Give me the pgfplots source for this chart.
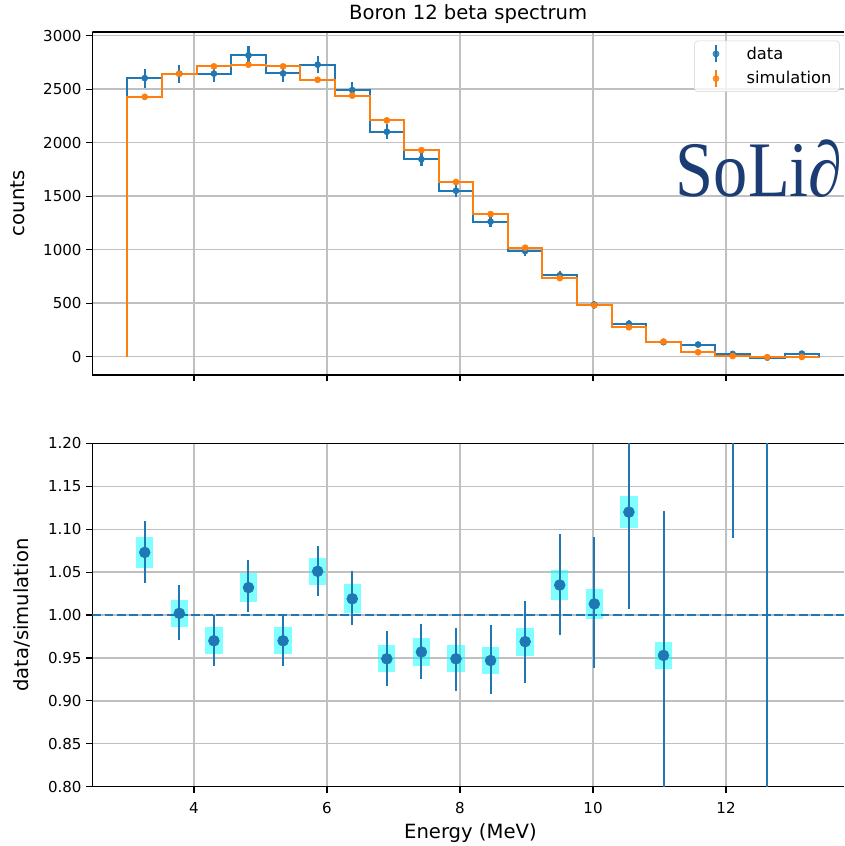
\documentclass[border=0pt]{standalone}
\usepackage{fontspec}
\setmainfont{DejaVu Sans}
\newfontfamily\logofont{Liberation Serif}
\usepackage{pgfplots}
\usepackage{pgfplotstable}
\pgfplotsset{compat=1.18}
\definecolor{mplblue}{HTML}{1F77B4}
\definecolor{mplorange}{HTML}{FF7F0E}
\definecolor{gridgray}{HTML}{C0C0C0}
\definecolor{solidblue}{HTML}{1C3C74}
\definecolor{boxcyan}{rgb}{0,1,1}

% histogram steps (bin edges, data, simulation)
\pgfplotstableread{
e     d     s
3.00  0     0
3.00  2603  2428
3.52  2645  2644
4.04  2645  2713
4.56  2816  2729
5.08  2647  2713
5.60  2729  2588
6.12  2491  2440
6.64  2102  2208
7.16  1845  1930
7.68  1551  1632
8.20  1262  1332
8.72  987   1018
9.24  760   734
9.76  486   479
10.28 307   274
10.80 135   141
11.32 113   41
11.84 25    6
12.36 -9    -6
12.88 28    -3
13.40 28    -3
13.40 0     0
}\steptab

% bin centres with values and errors
\pgfplotstableread{
x     d     ed  s     es
3.26  2603  88  2428  25
3.78  2645  85  2644  25
4.30  2645  80  2713  25
4.82  2816  83  2729  25
5.34  2647  81  2713  25
5.86  2729  78  2588  25
6.38  2491  76  2440  24
6.90  2102  71  2208  23
7.42  1845  63  1930  22
7.94  1551  60  1632  20
8.46  1262  53  1332  18
8.98  987   48  1018  16
9.50  760   43  734   13
10.02 486   37  479   11
10.54 307   31  274   8
11.06 135   24  141   6
11.58 113   20  41    4
12.10 25    18  6     2
12.62 -9    17  -6    2
13.14 28    17  -3    1
}\pointtab

% ratio data/simulation
\pgfplotstableread{
x     r      em     ep     h
3.26  1.073  0.036  0.037  0.0176
3.78  1.002  0.031  0.033  0.0160
4.30  0.970  0.029  0.030  0.0156
4.82  1.032  0.029  0.032  0.0168
5.34  0.970  0.029  0.030  0.0158
5.86  1.051  0.029  0.030  0.0160
6.38  1.019  0.031  0.032  0.0170
6.90  0.949  0.032  0.032  0.0156
7.42  0.957  0.032  0.033  0.0158
7.94  0.949  0.037  0.036  0.0158
8.46  0.947  0.039  0.041  0.0156
8.98  0.969  0.048  0.047  0.0164
9.50  1.035  0.058  0.059  0.0172
10.02 1.013  0.075  0.078  0.0172
10.54 1.120  0.113  0.113  0.0185
11.06 0.953  0.168  0.168  0.0158
}\ratiotab

% ratio points whose centre lies outside the shown range
\pgfplotstableread{
x     r     em    ep
11.58 2.76  1.00  1.00
12.10 4.20  3.11  3.11
12.62 1.50  1.00  1.00
}\ratioout

\begin{document}
\begin{tikzpicture}
\pgfplotsset{
  common/.style={
    scale only axis,
    width=563.8pt,
    xmin=2.471, xmax=13.774,
    axis x line*=bottom,
    axis y line*=left,
    axis line style={line width=0.9pt, black},
    tick align=outside,
    major tick length=4.5pt,
    tick style={black, line width=0.9pt},
    grid=major,
    major grid style={gridgray, line width=1.1pt},
    xtick={4,6,8,10,12},
    tick label style={font=\fontsize{11.3}{13.6}\selectfont},
    xticklabel style={yshift=-4pt},
    /pgf/number format/assume math mode=true,
    clip=true,
  }
}
% ---------------- bottom panel ----------------
\begin{axis}[common,
  at={(0pt,0pt)}, anchor=south west,
  height=257.4pt,
  ymin=0.8, ymax=1.2,
  ytick={0.80,0.85,0.90,0.95,1.00,1.05,1.10,1.15,1.20},
  yticklabel style={/pgf/number format/fixed, /pgf/number format/fixed zerofill, /pgf/number format/precision=2},
  xlabel={Energy (MeV)},
  ylabel={data/simulation},
  every axis x label/.style={at={(axis description cs:0.503,0)}, anchor=base, yshift=-38.7pt, font=\fontsize{14.7}{17}\selectfont},
  every axis y label/.style={at={(axis description cs:-0.0929,0.5)}, anchor=center, rotate=90, font=\fontsize{14.7}{17}\selectfont},
]
\draw[line width=0.9pt, black] (rel axis cs:0,1) -- (rel axis cs:1,1);
% simulation uncertainty boxes
\addplot[draw=none, mark=none,
  error bars/.cd, y dir=both, y explicit,
  error mark=none,
  error bar style={line width=13pt, boxcyan, opacity=0.5}]
  table[x=x, y=r, y error=h] {\ratiotab};
% unity line
\addplot[mplblue, line width=1.5pt, dash pattern=on 6.5pt off 2.8pt] coordinates {(2.471,1) (13.774,1)};
% ratio points
\addplot[only marks, mark=*, mark size=4.1pt, mplblue, mark options={draw=none, fill=mplblue},
  error bars/.cd, y dir=both, y explicit,
  error mark=none,
  error bar style={line width=1.5pt, mplblue}]
  table[x=x, y=r, y error plus=ep, y error minus=em] {\ratiotab};
\addplot[draw=none, mark=none,
  error bars/.cd, y dir=both, y explicit,
  error mark=none,
  error bar style={line width=1.5pt, mplblue}]
  table[x=x, y=r, y error plus=ep, y error minus=em] {\ratioout};
\end{axis}
% ---------------- top panel ----------------
\begin{axis}[common,
  at={(0pt,308.8pt)}, anchor=south west,
  height=257.25pt,
  ymin=-171, ymax=3035,
  ytick={0,500,1000,1500,2000,2500,3000},
  yticklabel style={/pgf/number format/fixed, /pgf/number format/set thousands separator={}},
  xticklabels={},
  ylabel={counts},
  every axis y label/.style={at={(axis description cs:-0.0995,0.5)}, anchor=center, rotate=90, font=\fontsize{14.7}{17}\selectfont},
  title={Boron 12 beta spectrum},
  every axis title/.style={at={(axis description cs:0.5,1)}, anchor=base, yshift=9pt, font=\fontsize{14.7}{17}\selectfont},
  legend style={at={(rel axis cs:0.8005,0.9746)}, anchor=north west,
    draw=gray!35, fill=white, fill opacity=0.8, draw opacity=1, text opacity=1,
    rounded corners=2.5pt, font=\fontsize{12.2}{14.6}\selectfont,
    inner xsep=5pt, inner ysep=2.5pt, row sep=4pt,
    nodes={inner sep=1pt},
    /tikz/every odd column/.style={column sep=9.25pt}},
  legend cell align=left,
]
\draw[line width=0.9pt, black] (rel axis cs:0,1) -- (rel axis cs:1,1);
\node[anchor=base west, inner sep=0pt, text=solidblue, xscale=0.87, transform shape,
  font=\logofont\fontsize{59}{59}\selectfont] at (rel axis cs:0.776,0.519) {SoLi∂};
\addplot[const plot, mplblue, line width=1.5pt, forget plot] table[x=e, y=d] {\steptab};
\addplot[const plot, mplorange, line width=1.5pt, forget plot] table[x=e, y=s] {\steptab};
\addplot[only marks, mark=*, mark size=2.3pt, mplblue, mark options={draw=none, fill=mplblue}, forget plot,
  error bars/.cd, y dir=both, y explicit, error mark=none,
  error bar style={line width=1.7pt, mplblue}]
  table[x=x, y=d, y error=ed] {\pointtab};
\addplot[only marks, mark=*, mark size=2.3pt, mplorange, mark options={draw=none, fill=mplorange}, forget plot,
  error bars/.cd, y dir=both, y explicit, error mark=none,
  error bar style={line width=1.7pt, mplorange}]
  table[x=x, y=s, y error=es] {\pointtab};
\addlegendimage{legend image code/.code={
  \path[draw=none, fill=none] (0pt,-1pt) rectangle (24pt,1pt);
  \draw[mplblue, line width=1.7pt] (11.25pt,-6.4pt) -- (11.25pt,6.4pt);
  \fill[mplblue] (11.25pt,0pt) circle (2.3pt);}}
\addlegendentry{data}
\addlegendimage{legend image code/.code={
  \path[draw=none, fill=none] (0pt,-1pt) rectangle (24pt,1pt);
  \draw[mplorange, line width=1.7pt] (11.25pt,-6.4pt) -- (11.25pt,6.4pt);
  \fill[mplorange] (11.25pt,0pt) circle (2.3pt);}}
\addlegendentry{simulation}
\end{axis}
\pgfresetboundingbox
\path[use as bounding box] (-69.2pt,-44.5pt) rectangle (563.8pt,590pt);
\end{tikzpicture}
\end{document}
